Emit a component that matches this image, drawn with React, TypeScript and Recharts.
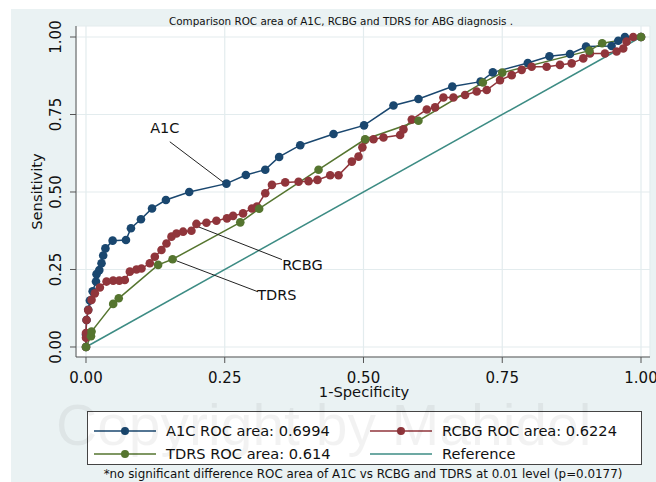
import { LineChart, Line, XAxis, YAxis, CartesianGrid, ReferenceLine, ReferenceDot, Label } from "recharts";

// 1-specificity / sensitivity pairs
const a1cFpr = [0, 0, 0.001, 0.004, 0.007, 0.012, 0.018, 0.019, 0.024, 0.028, 0.031, 0.035, 0.048, 0.072, 0.081, 0.099, 0.119, 0.144, 0.186, 0.253, 0.288, 0.323, 0.348, 0.386, 0.446, 0.501, 0.554, 0.599, 0.66, 0.711, 0.733, 0.796, 0.835, 0.872, 0.901, 0.947, 0.959, 0.971, 1];
const a1cTpr = [0, 0.04, 0.087, 0.12, 0.15, 0.18, 0.211, 0.235, 0.248, 0.27, 0.295, 0.318, 0.343, 0.345, 0.383, 0.412, 0.447, 0.474, 0.5, 0.527, 0.555, 0.572, 0.613, 0.651, 0.687, 0.715, 0.779, 0.8, 0.84, 0.856, 0.886, 0.916, 0.938, 0.945, 0.969, 0.971, 0.988, 1, 1];

const rcbgFpr = [0, 0, 0, 0.001, 0.004, 0.01, 0.016, 0.025, 0.037, 0.049, 0.06, 0.07, 0.079, 0.091, 0.1, 0.115, 0.124, 0.136, 0.145, 0.154, 0.163, 0.175, 0.19, 0.199, 0.217, 0.235, 0.254, 0.265, 0.283, 0.299, 0.308, 0.323, 0.335, 0.359, 0.383, 0.401, 0.417, 0.44, 0.455, 0.479, 0.491, 0.498, 0.503, 0.518, 0.536, 0.566, 0.572, 0.587, 0.614, 0.629, 0.644, 0.662, 0.683, 0.704, 0.722, 0.746, 0.767, 0.785, 0.803, 0.83, 0.854, 0.875, 0.896, 0.908, 0.935, 0.956, 0.968, 0.974, 0.986, 1];
const rcbgTpr = [0, 0.03, 0.045, 0.087, 0.119, 0.152, 0.173, 0.192, 0.211, 0.214, 0.214, 0.216, 0.243, 0.25, 0.253, 0.27, 0.291, 0.313, 0.334, 0.356, 0.366, 0.372, 0.375, 0.397, 0.401, 0.407, 0.415, 0.423, 0.431, 0.447, 0.453, 0.496, 0.523, 0.531, 0.533, 0.535, 0.539, 0.554, 0.554, 0.598, 0.614, 0.644, 0.668, 0.67, 0.676, 0.684, 0.702, 0.734, 0.766, 0.773, 0.805, 0.805, 0.813, 0.824, 0.829, 0.861, 0.877, 0.894, 0.904, 0.904, 0.91, 0.915, 0.931, 0.947, 0.947, 0.953, 0.963, 0.985, 1, 1];

const tdrsFpr = [0, 0.009, 0.01, 0.049, 0.059, 0.13, 0.156, 0.278, 0.312, 0.419, 0.503, 0.599, 0.715, 0.75, 0.907, 0.93, 1];
const tdrsTpr = [0, 0.035, 0.05, 0.139, 0.157, 0.265, 0.283, 0.402, 0.446, 0.572, 0.67, 0.73, 0.853, 0.885, 0.956, 0.98, 1];

const refFpr = [0, 1];
const refTpr = [0, 1];

const ticks = [0, 0.25, 0.5, 0.75, 1];

// curve labels: text, label point, leader line start/end
const annoNames = ["A1C", "RCBG", "TDRS"];
const annoText = [[0.142, 0.706], [0.39, 0.265], [0.344, 0.168]];
const annoFrom = [[0.151, 0.662], [0.353, 0.282], [0.31, 0.178]];
const annoTo = [[0.25, 0.528], [0.202, 0.388], [0.163, 0.278]];

const legendItems = [
  { name: "A1C ROC area: 0.6994", color: "#1a476f", dot: true },
  { name: "RCBG ROC area: 0.6224", color: "#90353b", dot: true },
  { name: "TDRS ROC area: 0.614", color: "#55752f", dot: true },
  { name: "Reference", color: "#3d8c84", dot: false },
];

const toPts = (xs: number[], ys: number[]) => xs.map((x, i) => ({ x, y: ys[i] }));

const FONT = "'DejaVu Sans', sans-serif";

const XTick = ({ x, y, payload }: any) => (
  <text x={x} y={y + 18} textAnchor="middle" fontSize={15} fontFamily={FONT} fill="#111">
    {Number(payload.value).toFixed(2)}
  </text>
);

const YTick = ({ x, y, payload }: any) => (
  <text transform={`translate(${x - 7},${y}) rotate(-90)`} textAnchor="middle" fontSize={15} fontFamily={FONT} fill="#111">
    {Number(payload.value).toFixed(2)}
  </text>
);

function Swatch({ color, dot }: { color: string; dot: boolean }) {
  return (
    <svg width={62} height={10} style={{ display: "block" }}>
      <line x1={0} y1={5} x2={62} y2={5} stroke={color} strokeWidth={1.5} />
      {dot && <circle cx={31} cy={5} r={4} fill={color} />}
    </svg>
  );
}

export default function App() {
  const series = [
    { key: "a1c", data: toPts(a1cFpr, a1cTpr), color: legendItems[0].color, dot: true },
    { key: "rcbg", data: toPts(rcbgFpr, rcbgTpr), color: legendItems[1].color, dot: true },
    { key: "tdrs", data: toPts(tdrsFpr, tdrsTpr), color: legendItems[2].color, dot: true },
    { key: "ref", data: toPts(refFpr, refTpr), color: legendItems[3].color, dot: false },
  ];

  const legendPos = [
    { left: 6, top: 10 },
    { left: 282, top: 10 },
    { left: 6, top: 33 },
    { left: 282, top: 33 },
  ];

  return (
    <div style={{ position: "absolute", left: 0, top: 0, width: 656, height: 482, background: "#fff", overflow: "hidden", fontFamily: FONT }}>
      <div style={{ position: "absolute", left: 11, top: 9, right: 0, bottom: 0, background: "#eaf2f3" }} />

      <div style={{ position: "absolute", left: 0, top: 0 }}>
        <LineChart width={656} height={482} margin={{ top: 26, right: 6, left: 16, bottom: 95 }}>
          <CartesianGrid fill="#ffffff" stroke="#e3ecee" strokeWidth={1.2} />
          <XAxis
            type="number"
            dataKey="x"
            domain={[-0.018, 1.0162]}
            ticks={ticks}
            allowDataOverflow
            height={30}
            stroke="#555"
            tickSize={6}
            tickMargin={2}
            tick={<XTick />}
          >
            <Label
              content={({ viewBox }: any) => (
                <text x={viewBox.x + viewBox.width / 2 + 1} y={viewBox.y + 40} textAnchor="middle" fontSize={14.7} fontFamily={FONT} fill="#111">
                  1-Specificity
                </text>
              )}
            />
          </XAxis>
          <YAxis
            type="number"
            dataKey="y"
            domain={[-0.0323, 1.0355]}
            ticks={ticks}
            allowDataOverflow
            width={60}
            stroke="#555"
            tickSize={6}
            tickMargin={2}
            tick={<YTick />}
          >
            <Label
              content={({ viewBox }: any) => (
                <text transform={`translate(${viewBox.x + 26},${viewBox.y + viewBox.height / 2}) rotate(-90)`} textAnchor="middle" fontSize={14.7} fontFamily={FONT} fill="#111">
                  Sensitivity
                </text>
              )}
            />
          </YAxis>

          {series.map((s) => (
            <Line
              key={s.key}
              data={s.data}
              dataKey="y"
              type="linear"
              stroke={s.color}
              strokeWidth={1.5}
              dot={s.dot ? { r: 4.3, fill: s.color, stroke: s.color, strokeWidth: 0 } : false}
              activeDot={false}
              isAnimationActive={false}
            />
          ))}

          {annoNames.map((n, i) => (
            <ReferenceLine
              key={`l-${n}`}
              segment={[
                { x: annoFrom[i][0], y: annoFrom[i][1] },
                { x: annoTo[i][0], y: annoTo[i][1] },
              ]}
              stroke="#222"
              strokeWidth={1}
            />
          ))}
          {annoNames.map((n, i) => (
            <ReferenceDot
              key={`t-${n}`}
              x={annoText[i][0]}
              y={annoText[i][1]}
              r={0}
              stroke="none"
              fill="none"
              label={{ value: n, position: "center", fill: "#111", fontSize: 14.5, fontFamily: FONT }}
            />
          ))}
        </LineChart>
      </div>

      <div style={{ position: "absolute", left: 0, width: 682, top: 15, textAlign: "center", fontSize: 10.4, color: "#111", whiteSpace: "nowrap" }}>
        Comparison ROC area of A1C, RCBG and TDRS for ABG diagnosis .
      </div>

      <div style={{ position: "absolute", left: 87, top: 411, width: 553, height: 52, background: "#fff", border: "1px solid #444" }}>
        {legendItems.map((it, i) => (
          <div key={it.name} style={{ position: "absolute", left: legendPos[i].left, top: legendPos[i].top, display: "flex", alignItems: "center", whiteSpace: "nowrap" }}>
            <Swatch color={it.color} dot={it.dot} />
            <span style={{ marginLeft: 10, fontSize: 14.6, color: "#111", lineHeight: "18px" }}>{it.name}</span>
          </div>
        ))}
      </div>

      <div style={{ position: "absolute", left: 0, width: 726, top: 467, textAlign: "center", fontSize: 11.9, color: "#111", whiteSpace: "nowrap" }}>
        *no significant difference ROC area of A1C vs RCBG and TDRS at 0.01 level (p=0.0177)
      </div>

      <div style={{ position: "absolute", left: 56, top: 392, fontSize: 57, fontFamily: "'Liberation Sans', Arial, sans-serif", color: "rgba(0,0,0,0.05)", whiteSpace: "nowrap", pointerEvents: "none" }}>
        Copyright by Mahidol
      </div>
    </div>
  );
}
